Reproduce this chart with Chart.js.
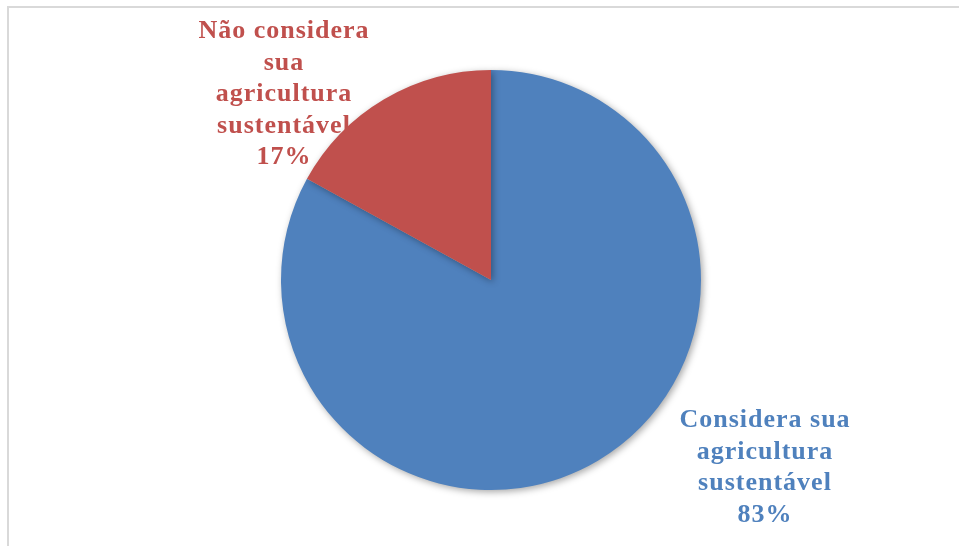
<!DOCTYPE html>
<html>
<head>
<meta charset="utf-8">
<script src="https://cdn.jsdelivr.net/npm/chart.js@4/dist/chart.umd.min.js"></script>
<style>
    html, body { margin: 0; padding: 0; background: #fff; }
    #box { width: 959px; height: 546px; position: relative; }
</style>
</head>
<body>
<div id="box"><canvas id="pieChart" width="959" height="546"></canvas></div>
<script>
// chart data
const categories = ["Considera sua agricultura sustentável", "Não considera sua agricultura sustentável"];
const labelLines = [
    ["Considera sua", "agricultura", "sustentável"],
    ["Não considera", "sua", "agricultura", "sustentável"]
];
const values = [83, 17];
const sliceColors = ["#4f81bd", "#c0504d"];

// frame lines round the chart (grey top + left edge)
const framePlugin = {
    id: "frame",
    beforeDraw(chart) {
        const c = chart.ctx;
        c.save();
        c.strokeStyle = "#d9d9d9";
        c.lineWidth = 2;
        c.beginPath();
        c.moveTo(8, chart.height);
        c.lineTo(8, 7);
        c.lineTo(chart.width, 7);
        c.stroke();
        c.restore();
    }
};

// soft shadow under the pie
const shadowPlugin = {
    id: "pieShadow",
    beforeDatasetsDraw(chart) {
        const c = chart.ctx;
        c.save();
        c.shadowColor = "rgba(0,0,0,0.35)";
        c.shadowBlur = 7;
        c.shadowOffsetX = 2;
        c.shadowOffsetY = 2;
    },
    afterDatasetsDraw(chart) {
        chart.ctx.restore();
    }
};

// data labels, placed off the pie like the Excel "best fit"
const labelPlugin = {
    id: "sliceLabels",
    afterDatasetsDraw(chart, args, opts) {
        const c = chart.ctx;
        const arcs = chart.getDatasetMeta(0).data;
        const total = values.reduce((a, b) => a + b, 0);
        c.save();
        c.font = "bold 26px 'Liberation Serif', serif";
        c.letterSpacing = "1px";
        c.textAlign = "center";
        c.textBaseline = "alphabetic";
        arcs.forEach((arc, i) => {
            const off = opts.offsets[i];
            const x = arc.x + off.dx;
            const y = arc.y + off.dy;
            const lines = labelLines[i].concat([Math.round(values[i] / total * 100) + "%"]);
            c.fillStyle = sliceColors[i];
            lines.forEach((t, k) => {
                c.fillText(t, x, y + k * opts.lineHeight);
            });
        });
        c.restore();
    }
};

const ctx = document.getElementById("pieChart").getContext("2d");
const pieChart = new Chart(ctx, {
    type: "pie",
    data: {
        labels: categories,
        datasets: [{
            data: values,
            backgroundColor: sliceColors,
            borderWidth: 0
        }]
    },
    options: {
        responsive: false,
        animation: false,
        layout: {
            padding: { top: 70, bottom: 56, left: 281, right: 258 }
        },
        plugins: {
            legend: { display: false },
            tooltip: { enabled: false },
            sliceLabels: {
                lineHeight: 31.6,
                offsets: [
                    { dx: 274, dy: 147 },
                    { dx: -207, dy: -242 }
                ]
            }
        }
    },
    plugins: [framePlugin, shadowPlugin, labelPlugin]
});
</script>
</body>
</html>
